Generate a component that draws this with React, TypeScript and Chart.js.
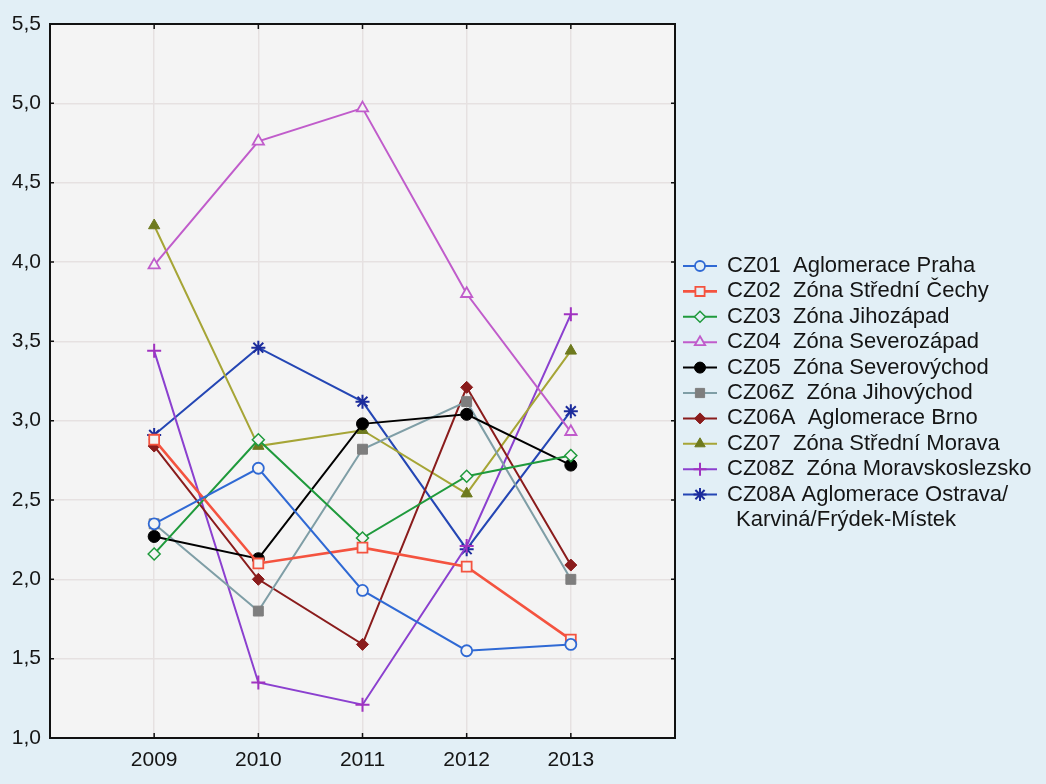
import React, { useEffect, useRef } from "react";
import { Chart, registerables } from "chart.js";
import * as helpers from "chart.js/helpers";

Chart.register(...registerables);

const years = [2009, 2010, 2011, 2012, 2013];
const xMin = 2008;
const xMax = 2014;
const yMin = 1.0;
const yMax = 5.5;
const yStep = 0.5;

const cz01 = [2.35, 2.7, 1.93, 1.55, 1.59];
const cz02 = [2.88, 2.1, 2.2, 2.08, 1.62];
const cz03 = [2.16, 2.88, 2.26, 2.65, 2.78];
const cz04 = [3.98, 4.76, 4.97, 3.8, 2.93];
const cz05 = [2.27, 2.13, 2.98, 3.04, 2.72];
const cz06z = [2.35, 1.8, 2.82, 3.12, 2.0];
const cz06a = [2.84, 2.0, 1.59, 3.21, 2.09];
const cz07 = [4.23, 2.84, 2.94, 2.54, 3.44];
const cz08z = [3.44, 1.35, 1.21, 2.21, 3.67];
const cz08a = [2.91, 3.46, 3.12, 2.19, 3.06];

const seriesLabels: (string | string[])[] = [
  "CZ01  Aglomerace Praha",
  "CZ02  Zóna Střední Čechy",
  "CZ03  Zóna Jihozápad",
  "CZ04  Zóna Severozápad",
  "CZ05  Zóna Severovýchod",
  "CZ06Z  Zóna Jihovýchod",
  "CZ06A  Aglomerace Brno",
  "CZ07  Zóna Střední Morava",
  "CZ08Z  Zóna Moravskoslezsko",
  ["CZ08A Aglomerace Ostrava/", "Karviná/Frýdek-Místek"],
];

const PAGE_BG = "#e2eff6";
const PLOT_BG = "#f4f4f4";
const FONT = '"Liberation Sans", Arial, sans-serif';

type Style = {
  line: string;
  fill: string;
  stroke: string;
  pointStyle: string;
  radius: number;
  width: number;
  pw: number;
};

const styles: Style[] = [
  { line: "#2f69d4", fill: PLOT_BG, stroke: "#2f69d4", pointStyle: "circle", radius: 5.5, width: 2, pw: 1.8 },
  { line: "#f4533f", fill: PLOT_BG, stroke: "#f4533f", pointStyle: "rect", radius: 7, width: 2.6, pw: 1.8 },
  { line: "#1f9a3c", fill: PLOT_BG, stroke: "#1f9a3c", pointStyle: "rectRot", radius: 6, width: 2, pw: 1.5 },
  { line: "#c05ccb", fill: PLOT_BG, stroke: "#c05ccb", pointStyle: "triangle", radius: 6.5, width: 2, pw: 1.8 },
  { line: "#000000", fill: "#000000", stroke: "#000000", pointStyle: "circle", radius: 6, width: 2, pw: 1 },
  { line: "#7f9ea6", fill: "#7e7e7e", stroke: "#7e7e7e", pointStyle: "rect", radius: 7, width: 2, pw: 1 },
  { line: "#8a1c1c", fill: "#8a1c1c", stroke: "#8a1c1c", pointStyle: "rectRot", radius: 6, width: 2, pw: 1 },
  { line: "#a6a536", fill: "#6e7a1e", stroke: "#6e7a1e", pointStyle: "triangle", radius: 6.5, width: 2, pw: 1 },
  { line: "#8b40cf", fill: "#a032c0", stroke: "#a032c0", pointStyle: "cross", radius: 7, width: 2, pw: 2 },
  { line: "#2446b4", fill: "#1c2c9c", stroke: "#1c2c9c", pointStyle: "star", radius: 7, width: 2, pw: 2 },
];

const seriesValues = [cz01, cz02, cz03, cz04, cz05, cz06z, cz06a, cz07, cz08z, cz08a];

const framePlugin = {
  id: "frame",
  beforeDraw(chart: any) {
    const { ctx, chartArea: a } = chart;
    ctx.save();
    ctx.fillStyle = PLOT_BG;
    ctx.fillRect(a.left, a.top, a.right - a.left, a.bottom - a.top);
    ctx.restore();
  },
  afterDraw(chart: any) {
    const { ctx, chartArea: a, scales } = chart;
    ctx.save();
    // frame
    ctx.strokeStyle = "#111";
    ctx.lineWidth = 2;
    ctx.strokeRect(a.left, a.top, a.right - a.left, a.bottom - a.top);
    // inward ticks
    ctx.lineWidth = 1.5;
    ctx.beginPath();
    const ys = scales.y;
    for (let v = yMin + yStep; v < yMax - 1e-9; v += yStep) {
      const py = ys.getPixelForValue(v);
      ctx.moveTo(a.left, py);
      ctx.lineTo(a.left + 4, py);
      ctx.moveTo(a.right, py);
      ctx.lineTo(a.right - 4, py);
    }
    const xs = scales.x;
    for (const yr of years) {
      const px = xs.getPixelForValue(yr);
      ctx.moveTo(px, a.bottom);
      ctx.lineTo(px, a.bottom - 5);
      ctx.moveTo(px, a.top);
      ctx.lineTo(px, a.top + 5);
    }
    ctx.stroke();

    // legend
    const lx0 = 683;
    const lx1 = 717;
    const tx = 727;
    const y0 = 266;
    const dy = 25.4;
    ctx.font = `22px ${FONT}`;
    ctx.textBaseline = "middle";
    ctx.textAlign = "left";
    let row = 0;
    seriesLabels.forEach((lab, i) => {
      const st = styles[i];
      const y = y0 + row * dy;
      ctx.strokeStyle = st.line;
      ctx.lineWidth = st.width;
      ctx.beginPath();
      ctx.moveTo(lx0, y);
      ctx.lineTo(lx1, y);
      ctx.stroke();
      ctx.fillStyle = st.fill === PLOT_BG ? PAGE_BG : st.fill;
      ctx.strokeStyle = st.stroke;
      ctx.lineWidth = st.pw;
      helpers.drawPoint(ctx, { pointStyle: st.pointStyle, radius: st.radius - 0.5, borderWidth: st.pw, rotation: 0 } as any, (lx0 + lx1) / 2, y);
      ctx.fillStyle = "#151515";
      const lines = Array.isArray(lab) ? lab : [lab];
      lines.forEach((t, k) => {
        ctx.fillText(t, k === 0 ? tx : tx + 9, y0 + row * dy);
        row++;
      });
    });
    ctx.restore();
  },
};

export default function App() {
  const ref = useRef<HTMLCanvasElement | null>(null);
  useEffect(() => {
    document.body.style.margin = "0";
    document.body.style.background = PAGE_BG;
    const canvas = ref.current!;
    const datasets = seriesValues.map((vals, i) => {
      const st = styles[i];
      const lab = seriesLabels[i];
      return {
        label: Array.isArray(lab) ? lab.join(" ") : lab,
        data: vals.map((v, k) => ({ x: years[k], y: v })),
        borderColor: st.line,
        borderWidth: st.width,
        pointStyle: st.pointStyle as any,
        pointRadius: st.radius,
        pointBackgroundColor: st.fill,
        pointBorderColor: st.stroke,
        pointBorderWidth: st.pw,
        tension: 0,
        fill: false,
      };
    });
    const chart = new Chart(canvas, {
      type: "line",
      data: { datasets },
      options: {
        responsive: false,
        animation: false,
        devicePixelRatio: 1,
        layout: { padding: { top: 24, right: 371, left: 0, bottom: 0 } },
        plugins: { legend: { display: false }, tooltip: { enabled: false } },
        scales: {
          x: {
            type: "linear",
            min: xMin,
            max: xMax,
            afterFit: (s: any) => {
              s.height = 46;
            },
            grid: { color: "#e6e1e1", lineWidth: 1.5, drawTicks: false },
            border: { display: false },
            ticks: {
              stepSize: 1,
              padding: 10,
              color: "#151515",
              font: { family: FONT, size: 21 },
              callback: (v: any) => (years.includes(Number(v)) ? String(v) : ""),
            },
          },
          y: {
            type: "linear",
            min: yMin,
            max: yMax,
            afterFit: (s: any) => {
              s.width = 50;
            },
            grid: { color: "#e6e1e1", lineWidth: 1.5, drawTicks: false },
            border: { display: false },
            ticks: {
              stepSize: yStep,
              padding: 9,
              color: "#151515",
              font: { family: FONT, size: 21 },
              callback: (v: any) => Number(v).toFixed(1).replace(".", ","),
            },
          },
        },
      },
      plugins: [framePlugin],
    });
    return () => chart.destroy();
  }, []);
  return (
    <div style={{ width: 1046, height: 784, background: PAGE_BG }}>
      <canvas ref={ref} width={1046} height={784} style={{ display: "block" }} />
    </div>
  );
}
